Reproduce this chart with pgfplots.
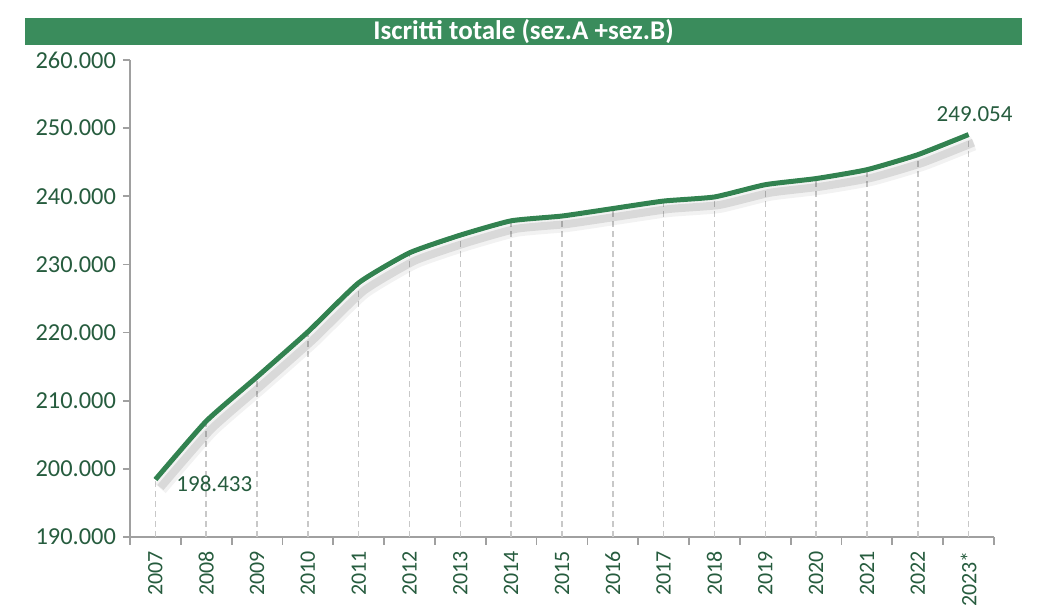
\documentclass[border=0pt]{standalone}
\usepackage{fontspec}
\setmainfont{Carlito}
\usepackage{pgfplots}
\pgfplotsset{compat=1.18}
\definecolor{barGreen}{RGB}{58,140,92}
\definecolor{lineGreen}{RGB}{50,130,80}
\definecolor{txtGreen}{RGB}{38,92,62}
\definecolor{axGray}{RGB}{160,160,160}
\definecolor{dashGray}{RGB}{200,200,200}
\begin{document}
\begin{tikzpicture}
  \useasboundingbox (-65pt,-36pt) rectangle (454pt,268.5pt);
  % title bar
  \fill[barGreen] (-52.5pt,246pt) rectangle (446pt,259.5pt);
  \node[text=white, font=\bfseries\fontsize{13.5}{14}\selectfont] at (196.75pt,252.75pt) {Iscritti totale (sez.A +sez.B)};
  \begin{axis}[at={(0,0)}, anchor=south west, scale only axis,
    width=432pt, height=238.5pt,
    xmin=-0.5, xmax=16.5, ymin=190000, ymax=260000,
    clip mode=individual,
    scaled y ticks=false,
    axis x line=bottom, axis y line=left,
    axis line style={axGray, line width=0.9pt, -},
    xtick={0,...,16},
    xticklabels={2007,2008,2009,2010,2011,2012,2013,2014,2015,2016,2017,2018,2019,2020,2021,2022,2023*},
    major x tick style={draw=none},
    minor xtick={-0.5,0.5,...,16.5},
    minor x tick style={axGray, line width=0.9pt},
    minor tick length=4pt,
    x tick label style={rotate=90, anchor=east, text=txtGreen, font=\fontsize{11}{12}\selectfont},
    ytick={190000,200000,...,260000},
    yticklabels={190.000,200.000,210.000,220.000,230.000,240.000,250.000,260.000},
    y tick label style={text=txtGreen, font=\fontsize{12.2}{13}\selectfont},
    major y tick style={axGray, line width=0.9pt},
    major tick length=3.5pt,
    tick align=outside,
  ]
    % dashed drop lines
    \addplot[ycomb, color=dashGray, line width=0.75pt, dash pattern=on 3pt off 2pt] coordinates {
      (0,198433)(1,207000)(2,213500)(3,220100)(4,227300)(5,231700)(6,234300)(7,236400)(8,237100)
      (9,238200)(10,239300)(11,239900)(12,241700)(13,242600)(14,243900)(15,246100)(16,249054)};
    % shadow
    \addplot[smooth, tension=0.3, color=black, opacity=0.05, line width=7pt, xshift=2.5pt, yshift=-4.5pt] coordinates {
      (0,198433)(1,207000)(2,213500)(3,220100)(4,227300)(5,231700)(6,234300)(7,236400)(8,237100)
      (9,238200)(10,239300)(11,239900)(12,241700)(13,242600)(14,243900)(15,246100)(16,249054)};
    \addplot[smooth, tension=0.3, color=black, opacity=0.10, line width=4pt, xshift=2.5pt, yshift=-4pt] coordinates {
      (0,198433)(1,207000)(2,213500)(3,220100)(4,227300)(5,231700)(6,234300)(7,236400)(8,237100)
      (9,238200)(10,239300)(11,239900)(12,241700)(13,242600)(14,243900)(15,246100)(16,249054)};
    % main line
    \addplot[smooth, tension=0.3, color=lineGreen, line width=2.5pt] coordinates {
      (0,198433)(1,207000)(2,213500)(3,220100)(4,227300)(5,231700)(6,234300)(7,236400)(8,237100)
      (9,238200)(10,239300)(11,239900)(12,241700)(13,242600)(14,243900)(15,246100)(16,249054)};
    \node[anchor=west, text=txtGreen, font=\fontsize{11.5}{12}\selectfont] at (axis cs:0,198433) [xshift=7pt, yshift=-2pt] {198.433};
    \node[anchor=south, text=txtGreen, font=\fontsize{11.5}{12}\selectfont] at (axis cs:16,249054) [xshift=3pt, yshift=3pt] {249.054};
  \end{axis}
\end{tikzpicture}
\end{document}
